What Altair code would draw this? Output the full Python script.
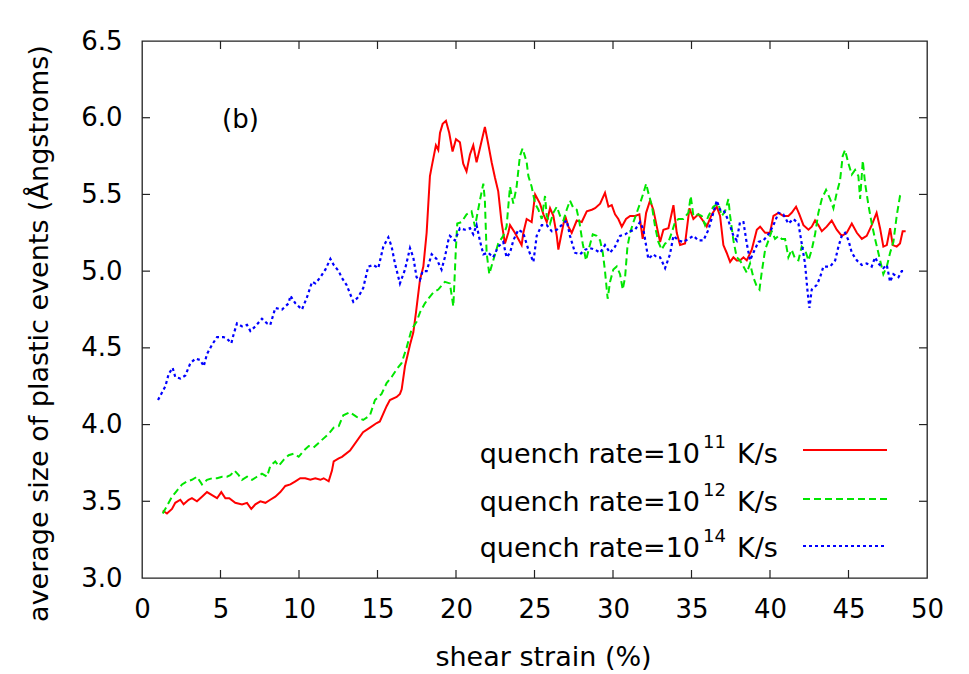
import altair as alt
import pandas as pd

# ---------------- data ----------------
red_x = [1.32, 1.59, 1.91, 2.12, 2.44, 2.65, 2.97, 3.18, 3.50, 3.82,
         4.14, 4.46, 4.78, 5.05, 5.31, 5.56, 5.94, 6.37, 6.69, 6.96,
         7.22, 7.54, 7.86, 8.17, 8.49, 8.81, 9.13, 9.45, 9.77, 10.08,
         10.40, 10.72, 11.04, 11.36, 11.57, 11.89, 12.10, 12.21, 12.53, 12.74,
         13.25, 14.08, 14.52, 14.95, 15.15, 15.58, 15.79, 16.22, 16.43, 16.54,
         16.75, 17.07, 17.28, 17.45, 17.70, 17.92, 18.13, 18.34, 18.45, 18.72,
         18.87, 18.98, 19.15, 19.36, 19.57, 19.78, 20.00, 20.25, 20.46, 20.67,
         20.89, 21.10, 21.31, 21.52, 21.84, 22.05, 22.27, 22.48, 22.69, 22.90,
         23.12, 23.33, 23.44, 23.75, 24.18, 24.29, 24.50, 24.82, 25.04, 25.35,
         25.57, 25.78, 25.99, 26.20, 26.42, 26.52, 26.73, 26.95, 27.16, 27.37,
         27.69, 28.01, 28.33, 28.65, 28.86, 29.18, 29.49, 29.71, 29.92, 30.13,
         30.34, 30.56, 30.83, 31.09, 31.40, 31.68, 31.89, 32.11, 32.36, 32.57,
         32.79, 33.00, 33.21, 33.53, 33.85, 34.06, 34.27, 34.59, 34.87, 35.12,
         35.44, 35.72, 35.97, 36.29, 36.61, 36.82, 37.03, 37.24, 37.46, 37.67,
         37.88, 38.09, 38.31, 38.52, 38.84, 39.16, 39.37, 39.69, 40.00, 40.22,
         40.54, 40.85, 41.17, 41.38, 41.66, 41.87, 42.13, 42.45, 42.66, 42.87,
         43.08, 43.30, 43.61, 43.93, 44.25, 44.57, 44.89, 45.21, 45.53, 45.85,
         46.16, 46.48, 46.79, 47.01, 47.22, 47.44, 47.65, 47.82, 48.07, 48.28,
         48.45, 48.64]
red_y = [3.44, 3.42, 3.45, 3.49, 3.51, 3.48, 3.51, 3.52, 3.50, 3.53,
         3.56, 3.54, 3.52, 3.56, 3.52, 3.52, 3.49, 3.48, 3.49, 3.45,
         3.48, 3.50, 3.49, 3.51, 3.53, 3.56, 3.60, 3.61, 3.63, 3.65,
         3.65, 3.64, 3.65, 3.64, 3.65, 3.63, 3.70, 3.76, 3.78, 3.79,
         3.83, 3.95, 3.98, 4.01, 4.02, 4.12, 4.16, 4.18, 4.20, 4.23,
         4.38, 4.52, 4.60, 4.73, 4.94, 5.03, 5.25, 5.62, 5.68, 5.82,
         5.79, 5.90, 5.96, 5.98, 5.90, 5.78, 5.86, 5.84, 5.70, 5.65,
         5.76, 5.82, 5.71, 5.80, 5.94, 5.83, 5.71, 5.61, 5.52, 5.32,
         5.18, 5.25, 5.30, 5.25, 5.17, 5.25, 5.34, 5.32, 5.50, 5.44,
         5.37, 5.32, 5.41, 5.36, 5.23, 5.14, 5.25, 5.36, 5.29, 5.25,
         5.33, 5.32, 5.39, 5.40, 5.41, 5.44, 5.51, 5.42, 5.43, 5.37,
         5.34, 5.29, 5.34, 5.36, 5.36, 5.37, 5.21, 5.38, 5.46, 5.40,
         5.29, 5.19, 5.27, 5.28, 5.43, 5.25, 5.17, 5.18, 5.41, 5.34,
         5.37, 5.33, 5.29, 5.37, 5.42, 5.36, 5.17, 5.12, 5.06, 5.09,
         5.07, 5.07, 5.09, 5.07, 5.14, 5.27, 5.29, 5.25, 5.25, 5.36,
         5.38, 5.36, 5.36, 5.38, 5.42, 5.37, 5.30, 5.27, 5.29, 5.33,
         5.30, 5.26, 5.29, 5.33, 5.27, 5.23, 5.25, 5.31, 5.25, 5.21,
         5.23, 5.30, 5.38, 5.28, 5.16, 5.17, 5.28, 5.17, 5.16, 5.18,
         5.26, 5.26]

green_x = [1.32, 1.59, 1.91, 2.23, 2.55, 2.87, 3.18, 3.50, 3.82, 4.14,
           4.46, 4.78, 5.10, 5.41, 5.63, 5.90, 6.16, 6.37, 6.69, 7.01,
           7.32, 7.64, 7.96, 8.17, 8.49, 8.70, 9.02, 9.34, 9.66, 9.98,
           10.30, 10.62, 10.93, 11.25, 11.57, 11.89, 12.21, 12.53, 12.82, 13.24,
           13.67, 14.09, 14.52, 14.84, 15.26, 15.58, 15.90, 16.22, 16.53, 16.85,
           17.17, 17.49, 17.70, 18.02, 18.23, 18.55, 18.87, 19.29, 19.61, 19.83,
           19.99, 20.08, 20.36, 20.67, 20.99, 21.21, 21.52, 21.74, 21.84, 21.95,
           22.12, 22.37, 22.69, 23.01, 23.22, 23.44, 23.65, 23.86, 24.07, 24.24,
           24.50, 24.61, 24.82, 25.04, 25.25, 25.46, 25.67, 25.78, 25.99, 26.20,
           26.42, 26.63, 26.84, 27.05, 27.26, 27.48, 27.69, 27.86, 28.07, 28.28,
           28.50, 28.71, 28.96, 29.18, 29.35, 29.49, 29.66, 29.81, 30.02, 30.24,
           30.45, 30.62, 30.77, 30.92, 31.09, 31.30, 31.51, 31.72, 31.94, 32.11,
           32.25, 32.47, 32.68, 32.89, 33.10, 33.32, 33.53, 33.74, 33.95, 34.17,
           34.48, 34.80, 34.95, 35.12, 35.44, 35.65, 35.86, 36.08, 36.39, 36.71,
           36.93, 37.14, 37.35, 37.46, 37.67, 37.88, 38.09, 38.31, 38.52, 38.73,
           38.94, 39.16, 39.33, 39.47, 39.69, 39.90, 40.11, 40.32, 40.54, 40.75,
           40.96, 41.17, 41.38, 41.60, 41.81, 42.02, 42.23, 42.45, 42.66, 42.87,
           43.08, 43.30, 43.57, 43.83, 44.04, 44.25, 44.46, 44.63, 44.78, 45.00,
           45.21, 45.42, 45.63, 45.74, 45.91, 46.06, 46.27, 46.48, 46.69, 46.90,
           47.22, 47.44, 47.65, 47.86, 48.07, 48.28, 48.45]
green_y = [3.42, 3.47, 3.53, 3.57, 3.61, 3.63, 3.64, 3.66, 3.61, 3.64,
           3.65, 3.65, 3.66, 3.66, 3.67, 3.70, 3.67, 3.64, 3.66, 3.64,
           3.66, 3.68, 3.66, 3.73, 3.76, 3.73, 3.77, 3.80, 3.81, 3.79,
           3.83, 3.86, 3.85, 3.88, 3.91, 3.94, 3.98, 3.99, 4.06, 4.08,
           4.05, 4.03, 4.06, 4.16, 4.20, 4.27, 4.31, 4.36, 4.40, 4.50,
           4.62, 4.67, 4.73, 4.79, 4.82, 4.86, 4.88, 4.93, 4.92, 4.77,
           5.14, 5.31, 5.32, 5.37, 5.39, 5.29, 5.46, 5.57, 5.46, 5.12,
           4.98, 5.07, 5.18, 5.23, 5.29, 5.55, 5.44, 5.55, 5.75, 5.80,
           5.71, 5.62, 5.55, 5.44, 5.40, 5.34, 5.49, 5.36, 5.31, 5.38,
           5.42, 5.36, 5.33, 5.40, 5.46, 5.41, 5.40, 5.32, 5.18, 5.07,
           5.16, 5.24, 5.23, 5.20, 5.12, 5.00, 4.82, 4.93, 5.01, 5.03,
           4.98, 4.88, 4.96, 5.16, 5.25, 5.32, 5.38, 5.44, 5.51, 5.57,
           5.51, 5.43, 5.29, 5.19, 5.14, 5.18, 5.19, 5.25, 5.32, 5.34,
           5.34, 5.38, 5.49, 5.36, 5.37, 5.36, 5.30, 5.36, 5.42, 5.44,
           5.36, 5.39, 5.47, 5.36, 5.20, 5.09, 5.07, 5.03, 4.99, 5.05,
           4.96, 4.90, 4.88, 4.99, 5.14, 5.20, 5.26, 5.21, 5.23, 5.21,
           5.21, 5.09, 5.14, 5.08, 5.07, 5.16, 5.14, 5.07, 5.14, 5.24,
           5.38, 5.47, 5.53, 5.47, 5.41, 5.51, 5.59, 5.75, 5.79, 5.70,
           5.63, 5.66, 5.62, 5.47, 5.72, 5.57, 5.43, 5.31, 5.21, 5.12,
           4.98, 5.03, 5.12, 5.19, 5.36, 5.49, 5.51]

blue_x = [1.02, 1.49, 1.70, 1.95, 2.12, 2.44, 2.76, 3.08, 3.40, 3.72,
          3.93, 4.14, 4.46, 4.78, 5.20, 5.41, 5.69, 5.84, 6.05, 6.37,
          6.69, 6.90, 7.22, 7.64, 7.96, 8.17, 8.49, 8.92, 9.34, 9.45,
          9.77, 10.19, 10.51, 10.83, 11.04, 11.36, 11.68, 12.00, 12.21, 12.53,
          12.71, 13.03, 13.46, 13.77, 14.09, 14.41, 14.73, 15.05, 15.37, 15.69,
          15.90, 16.11, 16.43, 16.75, 17.07, 17.28, 17.49, 17.70, 17.87, 18.13,
          18.45, 18.76, 19.08, 19.29, 19.51, 19.61, 19.93, 20.25, 20.57, 20.89,
          21.10, 21.31, 21.52, 21.74, 22.05, 22.37, 22.69, 23.01, 23.22, 23.44,
          23.65, 23.97, 24.28, 24.61, 24.93, 25.14, 25.46, 25.78, 26.10, 26.42,
          26.73, 27.05, 27.26, 27.58, 27.90, 28.22, 28.54, 28.86, 29.18, 29.49,
          29.81, 30.13, 30.45, 30.77, 31.09, 31.40, 31.72, 31.94, 32.25, 32.57,
          32.79, 33.00, 33.32, 33.63, 33.85, 34.17, 34.48, 34.80, 35.12, 35.44,
          35.76, 36.08, 36.39, 36.61, 36.82, 37.03, 37.35, 37.67, 37.88, 38.09,
          38.31, 38.52, 38.73, 38.94, 39.26, 39.58, 39.90, 40.22, 40.54, 40.85,
          41.17, 41.49, 41.81, 42.02, 42.23, 42.38, 42.51, 42.66, 42.98, 43.19,
          43.40, 43.83, 44.15, 44.36, 44.57, 44.78, 45.00, 45.21, 45.53, 45.85,
          46.16, 46.48, 46.69, 46.90, 47.22, 47.44, 47.65, 47.86, 48.18, 48.39,
          48.60]
blue_y = [4.16, 4.25, 4.33, 4.37, 4.31, 4.30, 4.32, 4.40, 4.43, 4.42,
          4.38, 4.46, 4.52, 4.57, 4.57, 4.56, 4.53, 4.59, 4.66, 4.64,
          4.65, 4.61, 4.64, 4.69, 4.66, 4.65, 4.76, 4.75, 4.79, 4.84,
          4.79, 4.75, 4.83, 4.93, 4.92, 4.96, 5.01, 5.08, 5.04, 5.00,
          4.96, 4.91, 4.80, 4.83, 4.89, 5.03, 5.04, 5.02, 5.16, 5.22,
          5.16, 5.05, 4.92, 5.01, 5.15, 5.09, 4.96, 4.94, 5.00, 5.00,
          5.11, 5.08, 5.01, 5.09, 5.20, 5.23, 5.20, 5.28, 5.27, 5.28,
          5.24, 5.30, 5.20, 5.11, 5.12, 5.09, 5.16, 5.19, 5.09, 5.12,
          5.20, 5.27, 5.25, 5.14, 5.06, 5.23, 5.30, 5.30, 5.26, 5.27,
          5.30, 5.33, 5.23, 5.12, 5.11, 5.14, 5.15, 5.14, 5.12, 5.17,
          5.12, 5.16, 5.23, 5.24, 5.26, 5.27, 5.32, 5.27, 5.08, 5.11,
          5.09, 5.09, 5.02, 5.11, 5.23, 5.20, 5.19, 5.21, 5.23, 5.20,
          5.20, 5.27, 5.38, 5.46, 5.40, 5.40, 5.33, 5.23, 5.20, 5.32,
          5.32, 5.18, 5.07, 5.12, 5.19, 5.20, 5.24, 5.30, 5.38, 5.37,
          5.31, 5.34, 5.31, 5.18, 5.05, 4.88, 4.76, 4.88, 4.91, 4.96,
          5.03, 5.03, 5.07, 5.16, 5.23, 5.25, 5.20, 5.12, 5.07, 5.04,
          5.05, 5.03, 5.09, 5.05, 5.02, 5.04, 4.93, 4.98, 4.96, 5.00,
          5.00]

legend_base = "quench rate=10"
legend_exponents = ["11", "12", "14"]
legend_unit = "K/s"
series_colors = ["#ff0000", "#00e600", "#0000ff"]
series_dash = [[1, 0], [7, 4], [3, 3]]

x_ticks = [0, 5, 10, 15, 20, 25, 30, 35, 40, 45, 50]
y_ticks = [3.0, 3.5, 4.0, 4.5, 5.0, 5.5, 6.0, 6.5]

panel_label = "(b)"
x_title = "shear strain (%)"
y_title = "average size of plastic events (Ångstroms)"

# ---------------- layout / style ----------------
W, H = 785, 537
FONT = "DejaVu Sans"
TICK = 8

xs = alt.Scale(domain=[0, 50], nice=False, zero=False)
ys = alt.Scale(domain=[3.0, 6.5], nice=False, zero=False)

x_axis = alt.Axis(values=x_ticks, title=x_title, ticks=False, tickSize=0, domain=False,
                  grid=False, labelFont=FONT, labelFontSize=26, labelColor="black",
                  labelPadding=18, labelFlush=False, labelOverlap=False,
                  titleFont=FONT, titleFontSize=27, titleFontWeight="normal",
                  titleColor="black", titleX=401, titleY=87, titleBaseline="alphabetic",
                  titleAlign="center")
y_axis = alt.Axis(values=y_ticks, title=y_title, format=".1f", ticks=False, tickSize=0,
                  domain=False, grid=False, labelFont=FONT, labelFontSize=26,
                  labelColor="black", labelPadding=20, labelFlush=False, labelOverlap=False,
                  titleFont=FONT, titleFontSize=27, titleFontWeight="normal",
                  titleColor="black", titleX=-95, titleY=292, titleAngle=270,
                  titleBaseline="alphabetic", titleAlign="center")

layers = []

# data lines (drawn red, green, blue as in the original) - these carry the axes
series = [(red_x, red_y), (green_x, green_y), (blue_x, blue_y)]
widths = [2.0, 2.0, 2.2]
for i, (sx, sy) in enumerate(series):
    df = pd.DataFrame({"x": sx, "y": sy})
    mk = dict(color=series_colors[i], strokeWidth=widths[i], clip=True)
    if i > 0:
        mk["strokeDash"] = series_dash[i]
    layers.append(alt.Chart(df).mark_line(**mk).encode(
        x=alt.X("x:Q", scale=xs, axis=x_axis),
        y=alt.Y("y:Q", scale=ys, axis=y_axis),
        order="x:Q"))

# inward tick marks on all four sides
xt = pd.DataFrame({"v": x_ticks[1:-1]})
yt = pd.DataFrame({"v": y_ticks[1:-1]})
tick_style = dict(color="#222222", strokeWidth=1.2)
layers.append(alt.Chart(yt).mark_rule(**tick_style).encode(
    y=alt.Y("v:Q", scale=ys, axis=y_axis), x=alt.value(0), x2=alt.value(TICK)))
layers.append(alt.Chart(yt).mark_rule(**tick_style).encode(
    y=alt.Y("v:Q", scale=ys, axis=y_axis), x=alt.value(W - TICK), x2=alt.value(W)))
layers.append(alt.Chart(xt).mark_rule(**tick_style).encode(
    x=alt.X("v:Q", scale=xs, axis=x_axis), y=alt.value(H), y2=alt.value(H - TICK)))
layers.append(alt.Chart(xt).mark_rule(**tick_style).encode(
    x=alt.X("v:Q", scale=xs, axis=x_axis), y=alt.value(0), y2=alt.value(TICK)))

# panel label
layers.append(alt.Chart(pd.DataFrame({"t": [panel_label]})).mark_text(
    font=FONT, fontSize=26, align="left", baseline="middle", color="black").encode(
    x=alt.value(80), y=alt.value(79), text="t:N"))

# legend (label on the left, line sample on the right)
text_baselines = [422, 470, 516]
line_ys = [409, 458, 505]
for i, ex in enumerate(legend_exponents):
    ldf = pd.DataFrame({"base": [legend_base], "sup": [ex], "unit": [legend_unit]})
    base = alt.Chart(ldf)
    layers.append(base.mark_text(
        font=FONT, fontSize=27, align="right", baseline="alphabetic", color="black").encode(
        x=alt.value(558), y=alt.value(text_baselines[i]), text="base:N"))
    layers.append(base.mark_text(
        font=FONT, fontSize=18, align="left", baseline="alphabetic", color="black").encode(
        x=alt.value(561), y=alt.value(text_baselines[i] - 15), text="sup:N"))
    layers.append(base.mark_text(
        font=FONT, fontSize=27, align="left", baseline="alphabetic", color="black").encode(
        x=alt.value(595), y=alt.value(text_baselines[i]), text="unit:N"))
    rk = dict(color=series_colors[i], strokeWidth=2)
    if i > 0:
        rk["strokeDash"] = series_dash[i]
    layers.append(base.mark_rule(**rk).encode(
        x=alt.value(661), x2=alt.value(745), y=alt.value(line_ys[i])))

chart = alt.layer(*layers).properties(
    width=W, height=H,
    padding={"left": 142, "top": 41, "right": 42, "bottom": 96},
    autosize=alt.AutoSizeParams(type="none"),
    background="white",
).configure_view(stroke="#222222", strokeWidth=1.3)

chart.save("out.html", embed_options={"renderer": "svg", "actions": False})
